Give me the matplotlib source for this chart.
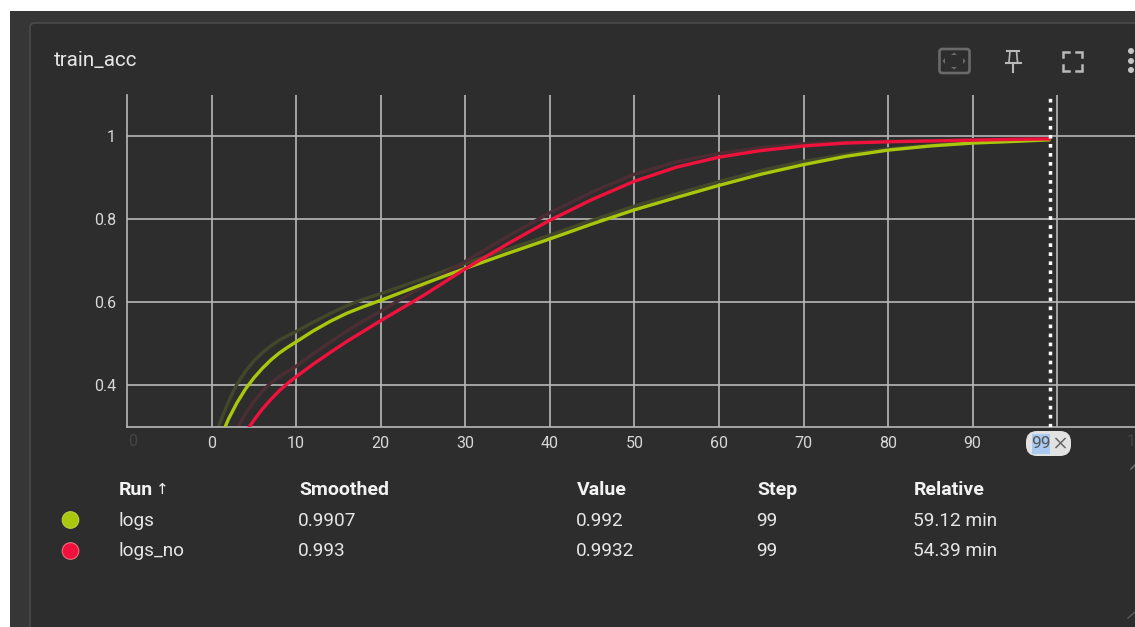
import matplotlib
matplotlib.use("Agg")
import matplotlib.pyplot as plt
from matplotlib.patches import Rectangle, FancyBboxPatch, Circle, Polygon

# ---------- data ----------
title = "train_acc"
steps = [0, 1, 2, 3, 4, 5, 6, 7, 8, 9, 10, 12, 14, 16, 18, 20, 25, 30, 35, 40, 45,
         50, 55, 60, 65, 70, 75, 80, 85, 90, 95, 99]
logs_smoothed = [.22, .27, .318, .357, .39, .417, .44, .46, .477, .491, .504, .53, .553, .573, .589, .604,
                 .643, .681, .717, .752, .788, .822, .852, .881, .908, .931, .951, .966, .976, .983, .987, .9907]
logs_raw = [.25, .31, .36, .402, .433, .458, .478, .494, .508, .519, .529, .551, .572, .591, .607, .62,
            .656, .693, .727, .761, .797, .831, .861, .89, .917, .939, .956, .969, .978, .984, .988, .992]
no_smoothed = [.15, .19, .225, .255, .285, .315, .342, .365, .386, .404, .42, .45, .478, .505, .53, .555,
               .615, .68, .74, .797, .847, .891, .925, .949, .965, .976, .983, .986, .988, .99, .992, .993]
no_raw = [.17, .21, .26, .295, .33, .36, .385, .405, .42, .433, .445, .475, .503, .53, .555, .578,
          .638, .698, .758, .815, .865, .908, .938, .958, .972, .981, .985, .987, .989, .991, .992, .9932]
x_ticks = [0, 10, 20, 30, 40, 50, 60, 70, 80, 90, 100]
x_labels = ["0", "10", "20", "30", "40", "50", "60", "70", "80", "90", ""]
y_ticks = [0.4, 0.6, 0.8, 1.0]
y_labels = ["0.4", "0.6", "0.8", "1"]
selected_step = 99
headers = ["Run", "Smoothed", "Value", "Step", "Relative"]
rows = [["logs", "0.9907", "0.992", "99", "59.12 min"],
        ["logs_no", "0.993", "0.9932", "99", "54.39 min"]]

# ---------- style ----------
W, H = 1135, 627
GREEN, RED = "#a9c70c", "#f0123c"
GREEN_RAW, RED_RAW = "#43482a", "#4b2d33"
GRID = "#b8b8b8"
TXT = "#e6e6e6"
FONT = ["Roboto", "DejaVu Sans"]
plt.rcParams["font.family"] = FONT

fig = plt.figure(figsize=(W / 100, H / 100), dpi=100, facecolor="white")


def rect(l, t, r, b):
    return [l / W, 1 - b / H, (r - l) / W, (b - t) / H]


# pixel-space background and furniture
bg = fig.add_axes([0, 0, 1, 1], zorder=0)
bg.set_xlim(0, W)
bg.set_ylim(H, 0)
bg.axis("off")
bg.add_patch(Rectangle((10, 11), W, H, fc="#363636", ec="none"))
bg.add_patch(FancyBboxPatch((34, 27), W, H, boxstyle="round,pad=4,rounding_size=5",
                            fc="#2d2d2d", ec="#4c4c4c", lw=1.1))
bg.text(54, 61, title, fontsize=14.9, color=TXT, va="center", ha="left")

# chart
ax = fig.add_axes(rect(127, 95, W, 426.5), zorder=1)
ax.set_facecolor("none")
ax.set_xlim(-10, 109.2)
ax.set_ylim(0.3, 1.0988)
for side in ("top", "right"):
    ax.spines[side].set_visible(False)
for side in ("left", "bottom"):
    ax.spines[side].set_color(GRID)
    ax.spines[side].set_linewidth(1.2)
ax.set_xticks(x_ticks, x_labels)
ax.set_yticks(y_ticks, y_labels)
ax.tick_params(length=0, colors="#d8d8d8", labelsize=11.5)
ax.tick_params(axis="x", pad=7)
ax.tick_params(axis="y", pad=8)
ax.grid(True, color=GRID, lw=1.2, zorder=1)
ax.set_axisbelow(True)
ax.plot(steps, logs_raw, color=GREEN_RAW, lw=2.4, zorder=2)
ax.plot(steps, no_raw, color=RED_RAW, lw=2.4, zorder=2)
ax.plot(steps, logs_smoothed, color=GREEN, lw=2.4, zorder=3)
ax.plot(steps, no_smoothed, color=RED, lw=2.4, zorder=4)
ax.axvline(selected_step + 0.15, color="white", lw=2.5, dashes=(1.05, 1.55), zorder=5)

# overlay furniture
ov = fig.add_axes([0, 0, 1, 1], zorder=2)
ov.set_xlim(0, W)
ov.set_ylim(H, 0)
ov.axis("off")
ov.patch.set_alpha(0)
FAINT = "#454545"
ov.text(133, 441, "0", color=FAINT, fontsize=11.5, ha="center", va="center")
ov.text(1131, 441, "1", color=FAINT, fontsize=11.5, ha="center", va="center")

# step chip
ov.add_patch(FancyBboxPatch((1037, 442), 23, 3, boxstyle="round,pad=11,rounding_size=11",
                            fc="#e2e2e2", ec="none"))
ov.add_patch(Rectangle((1032, 434), 18, 20, fc="#a9cbf2", ec="none"))
ov.text(1041, 443.5, str(selected_step), color="#555555", fontsize=12.5, ha="center", va="center")
ov.plot([1056, 1065], [438.5, 447.5], color="#666666", lw=1.1)
ov.plot([1056, 1065], [447.5, 438.5], color="#666666", lw=1.1)

# table
cols = [119, 299, 577, 757, 914]
for cx, h in zip(cols, headers):
    ov.text(cx, 490, h, color="#f2f2f2", fontsize=14, fontweight="bold", ha="left", va="center")
ov.text(162, 489.5, "↑", color="#f2f2f2", fontsize=11, ha="center", va="center")
col_cols = [118, 298, 576, 756, 913]
for y, row, c, e in zip((520.5, 551.5), rows, (GREEN, RED), ("#bcd03f", "#f86a80")):
    ov.add_patch(Circle((70.5, y - 0.5), 8.3, fc=c, ec=e, lw=0.8))
    for cx, t in zip(col_cols, row):
        ov.text(cx, y, t, color=TXT, fontsize=13.7, ha="left", va="center")

# toolbar icons
ICON = "#6a6a6a"
ov.add_patch(FancyBboxPatch((939.5, 49), 30, 24, boxstyle="round,pad=0,rounding_size=2.5",
                            fc="none", ec=ICON, lw=1.9))
for pts in ([(951, 55), (957, 55), (954, 52.5)], [(951, 67), (957, 67), (954, 69.5)],
            [(945, 58), (945, 64), (942.5, 61)], [(963, 58), (963, 64), (965.5, 61)]):
    ov.add_patch(Polygon(pts, fc=ICON, ec="none"))
PIN = "#b9b9b9"
ov.plot([1007, 1019], [51, 51], color=PIN, lw=1.5)
ov.plot([1010, 1009], [51, 62], color=PIN, lw=1.2)
ov.plot([1016.5, 1017.5], [51, 62], color=PIN, lw=1.2)
ov.plot([1006, 1020.5], [63, 63], color=PIN, lw=1.5)
ov.plot([1013, 1013], [63, 72], color=PIN, lw=1.5)
for xs, ys in (([1063, 1063, 1069], [57, 52, 52]), ([1076, 1082, 1082], [52, 52, 57]),
               ([1063, 1063, 1069], [65, 71, 71]), ([1076, 1082, 1082], [71, 71, 65])):
    ov.plot(xs, ys, color=PIN, lw=1.8, solid_joinstyle="miter")
for y in (51, 61, 70):
    ov.add_patch(Circle((1131, y), 3, fc="#c4c4c4", ec="none"))
ov.plot([1131, W], [469, 465], color="#777777", lw=1)
ov.plot([1128, W], [618, 612], color="#5a5a5a", lw=1)

fig.savefig("out.png", dpi=100, facecolor="white")
